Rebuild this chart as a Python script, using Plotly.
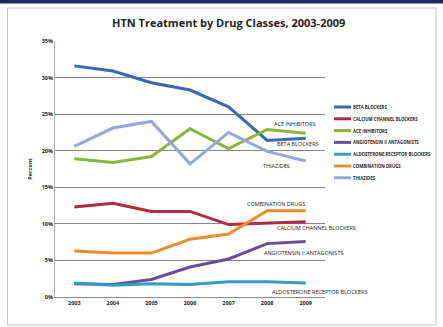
import plotly.graph_objects as go

years = ["2003", "2004", "2005", "2006", "2007", "2008", "2009"]

series_names = [
    "BETA BLOCKERS",
    "CALCIUM CHANNEL BLOCKERS",
    "ACE INHIBITORS",
    "ANGIOTENSIN II ANTAGONISTS",
    "ALDOSTERONE RECEPTOR BLOCKERS",
    "COMBINATION DRUGS",
    "THIAZIDES",
]

beta_blockers = [31.6, 30.9, 29.3, 28.3, 26.0, 21.4, 21.7]
calcium_channel_blockers = [12.3, 12.8, 11.7, 11.7, 9.9, 10.1, 10.3]
ace_inhibitors = [18.9, 18.4, 19.2, 23.0, 20.3, 22.9, 22.4]
angiotensin_ii_antagonists = [1.8, 1.7, 2.4, 4.1, 5.2, 7.3, 7.6]
aldosterone_receptor_blockers = [1.9, 1.6, 1.8, 1.7, 2.1, 2.1, 1.9]
combination_drugs = [6.3, 6.0, 6.0, 7.9, 8.6, 11.8, 11.8]
thiazides = [20.6, 23.1, 24.0, 18.2, 22.5, 19.9, 18.6]

y_ticks = [0, 5, 10, 15, 20, 25, 30, 35]

values = [beta_blockers, calcium_channel_blockers, ace_inhibitors,
          angiotensin_ii_antagonists, aldosterone_receptor_blockers,
          combination_drugs, thiazides]

colors = ["#3a66b4", "#b02a44", "#8ab43c", "#6a4c9c", "#2f9fbf", "#f08a2c", "#97a5de"]

# in-chart labels: (text, category-position, value)
line_labels = [
    ("BETA BLOCKERS", 5.8, 20.9),
    ("CALCIUM CHANNEL BLOCKERS", 6.29, 9.4),
    ("ACE INHIBITORS", 5.72, 23.6),
    ("ANGIOTENSIN II ANTAGONISTS", 5.93, 6.0),
    ("ALDOSTERONE RECEPTOR BLOCKERS", 6.37, 0.7),
    ("COMBINATION DRUGS", 5.22, 12.7),
    ("THIAZIDES", 5.23, 17.9),
]

FONT = "Open Sans"
W, H = 443, 327
ML, MR, MT, MB = 55, 118, 41, 30
X_RANGE = [-0.5, 6.5]
Y_RANGE = [0, 35]

pw = W - ML - MR
ph = H - MT - MB


def px2paper(px, py):
    return (px - ML) / pw, (H - MB - py) / ph


def data2paper(xv, yv):
    return ((xv - X_RANGE[0]) / (X_RANGE[1] - X_RANGE[0]),
            (yv - Y_RANGE[0]) / (Y_RANGE[1] - Y_RANGE[0]))


fig = go.Figure()
for name, vals, col in zip(series_names, values, colors):
    fig.add_trace(go.Scatter(
        x=list(range(len(years))), y=vals, mode="lines", name=name,
        line=dict(color=col, width=3), showlegend=False, cliponaxis=False,
    ))

annotations = []
shapes = []

# title
tx, ty = px2paper(228, 22)
annotations.append(dict(text="<b>HTN Treatment by Drug Classes, 2003-2009</b>",
                        x=tx, y=ty, xref="paper", yref="paper", showarrow=False,
                        xanchor="center", yanchor="middle",
                        font=dict(family=FONT, size=11, color="#222")))

# line labels
for txt, xv, yv in line_labels:
    ax, ay = data2paper(xv, yv)
    annotations.append(dict(text=txt, x=ax, y=ay, xref="paper", yref="paper", showarrow=False,
                            font=dict(family=FONT, size=5.5, color="#222"),
                            xanchor="center", yanchor="middle"))

# compact legend
for i, (name, col) in enumerate(zip(series_names, colors)):
    ypix = 107 + i * 11.8
    x0, y0 = px2paper(334, ypix)
    x1, _ = px2paper(351, ypix)
    shapes.append(dict(type="line", xref="paper", yref="paper", x0=x0, x1=x1, y0=y0, y1=y0,
                       line=dict(color=col, width=3)))
    annotations.append(dict(text="<b>" + name + "</b>", x=x1, y=y0, xref="paper", yref="paper",
                            showarrow=False, xanchor="left", yanchor="middle",
                            font=dict(family=FONT, size=4.3, color="#222")))


def rect_px(x0, y0, x1, y1, **kw):
    a0, b0 = px2paper(x0, y0)
    a1, b1 = px2paper(x1, y1)
    return dict(type="rect", xref="paper", yref="paper", x0=a0, y0=b1, x1=a1, y1=b0, **kw)


shapes.append(rect_px(0, 0, W, 3.5, fillcolor="#1e2a5a", line=dict(width=0), layer="below"))
shapes.append(rect_px(7.5, 8, 436, 325, fillcolor="rgba(0,0,0,0)",
                      line=dict(color="#c8c8c8", width=1), layer="below"))

fig.update_layout(
    width=W, height=H,
    margin=dict(l=ML, r=MR, t=MT, b=MB),
    paper_bgcolor="white", plot_bgcolor="white",
    font=dict(family=FONT, size=5, color="#222"),
    xaxis=dict(range=X_RANGE, tickmode="array", tickvals=list(range(len(years))),
               ticktext=["<b>" + y + "</b>" for y in years],
               showgrid=False, zeroline=False, showline=True, linecolor="#888", linewidth=1,
               ticks="", tickfont=dict(family=FONT, size=5.5, color="#222")),
    yaxis=dict(range=Y_RANGE, tickmode="array", tickvals=y_ticks,
               ticktext=["<b>%d%%</b>" % v for v in y_ticks],
               showgrid=True, gridcolor="#858585",
               gridwidth=1, zeroline=False, showline=True, linecolor="#aaa", linewidth=1,
               ticks="", tickfont=dict(family=FONT, size=5.5, color="#222"),
               title=dict(text="<b>Percent</b>", font=dict(family=FONT, size=5.5, color="#222"),
                          standoff=8)),
    annotations=annotations,
    shapes=shapes,
)

fig.write_html("out.html", config={"displayModeBar": False},
               post_script="document.body.style.margin='0';")
